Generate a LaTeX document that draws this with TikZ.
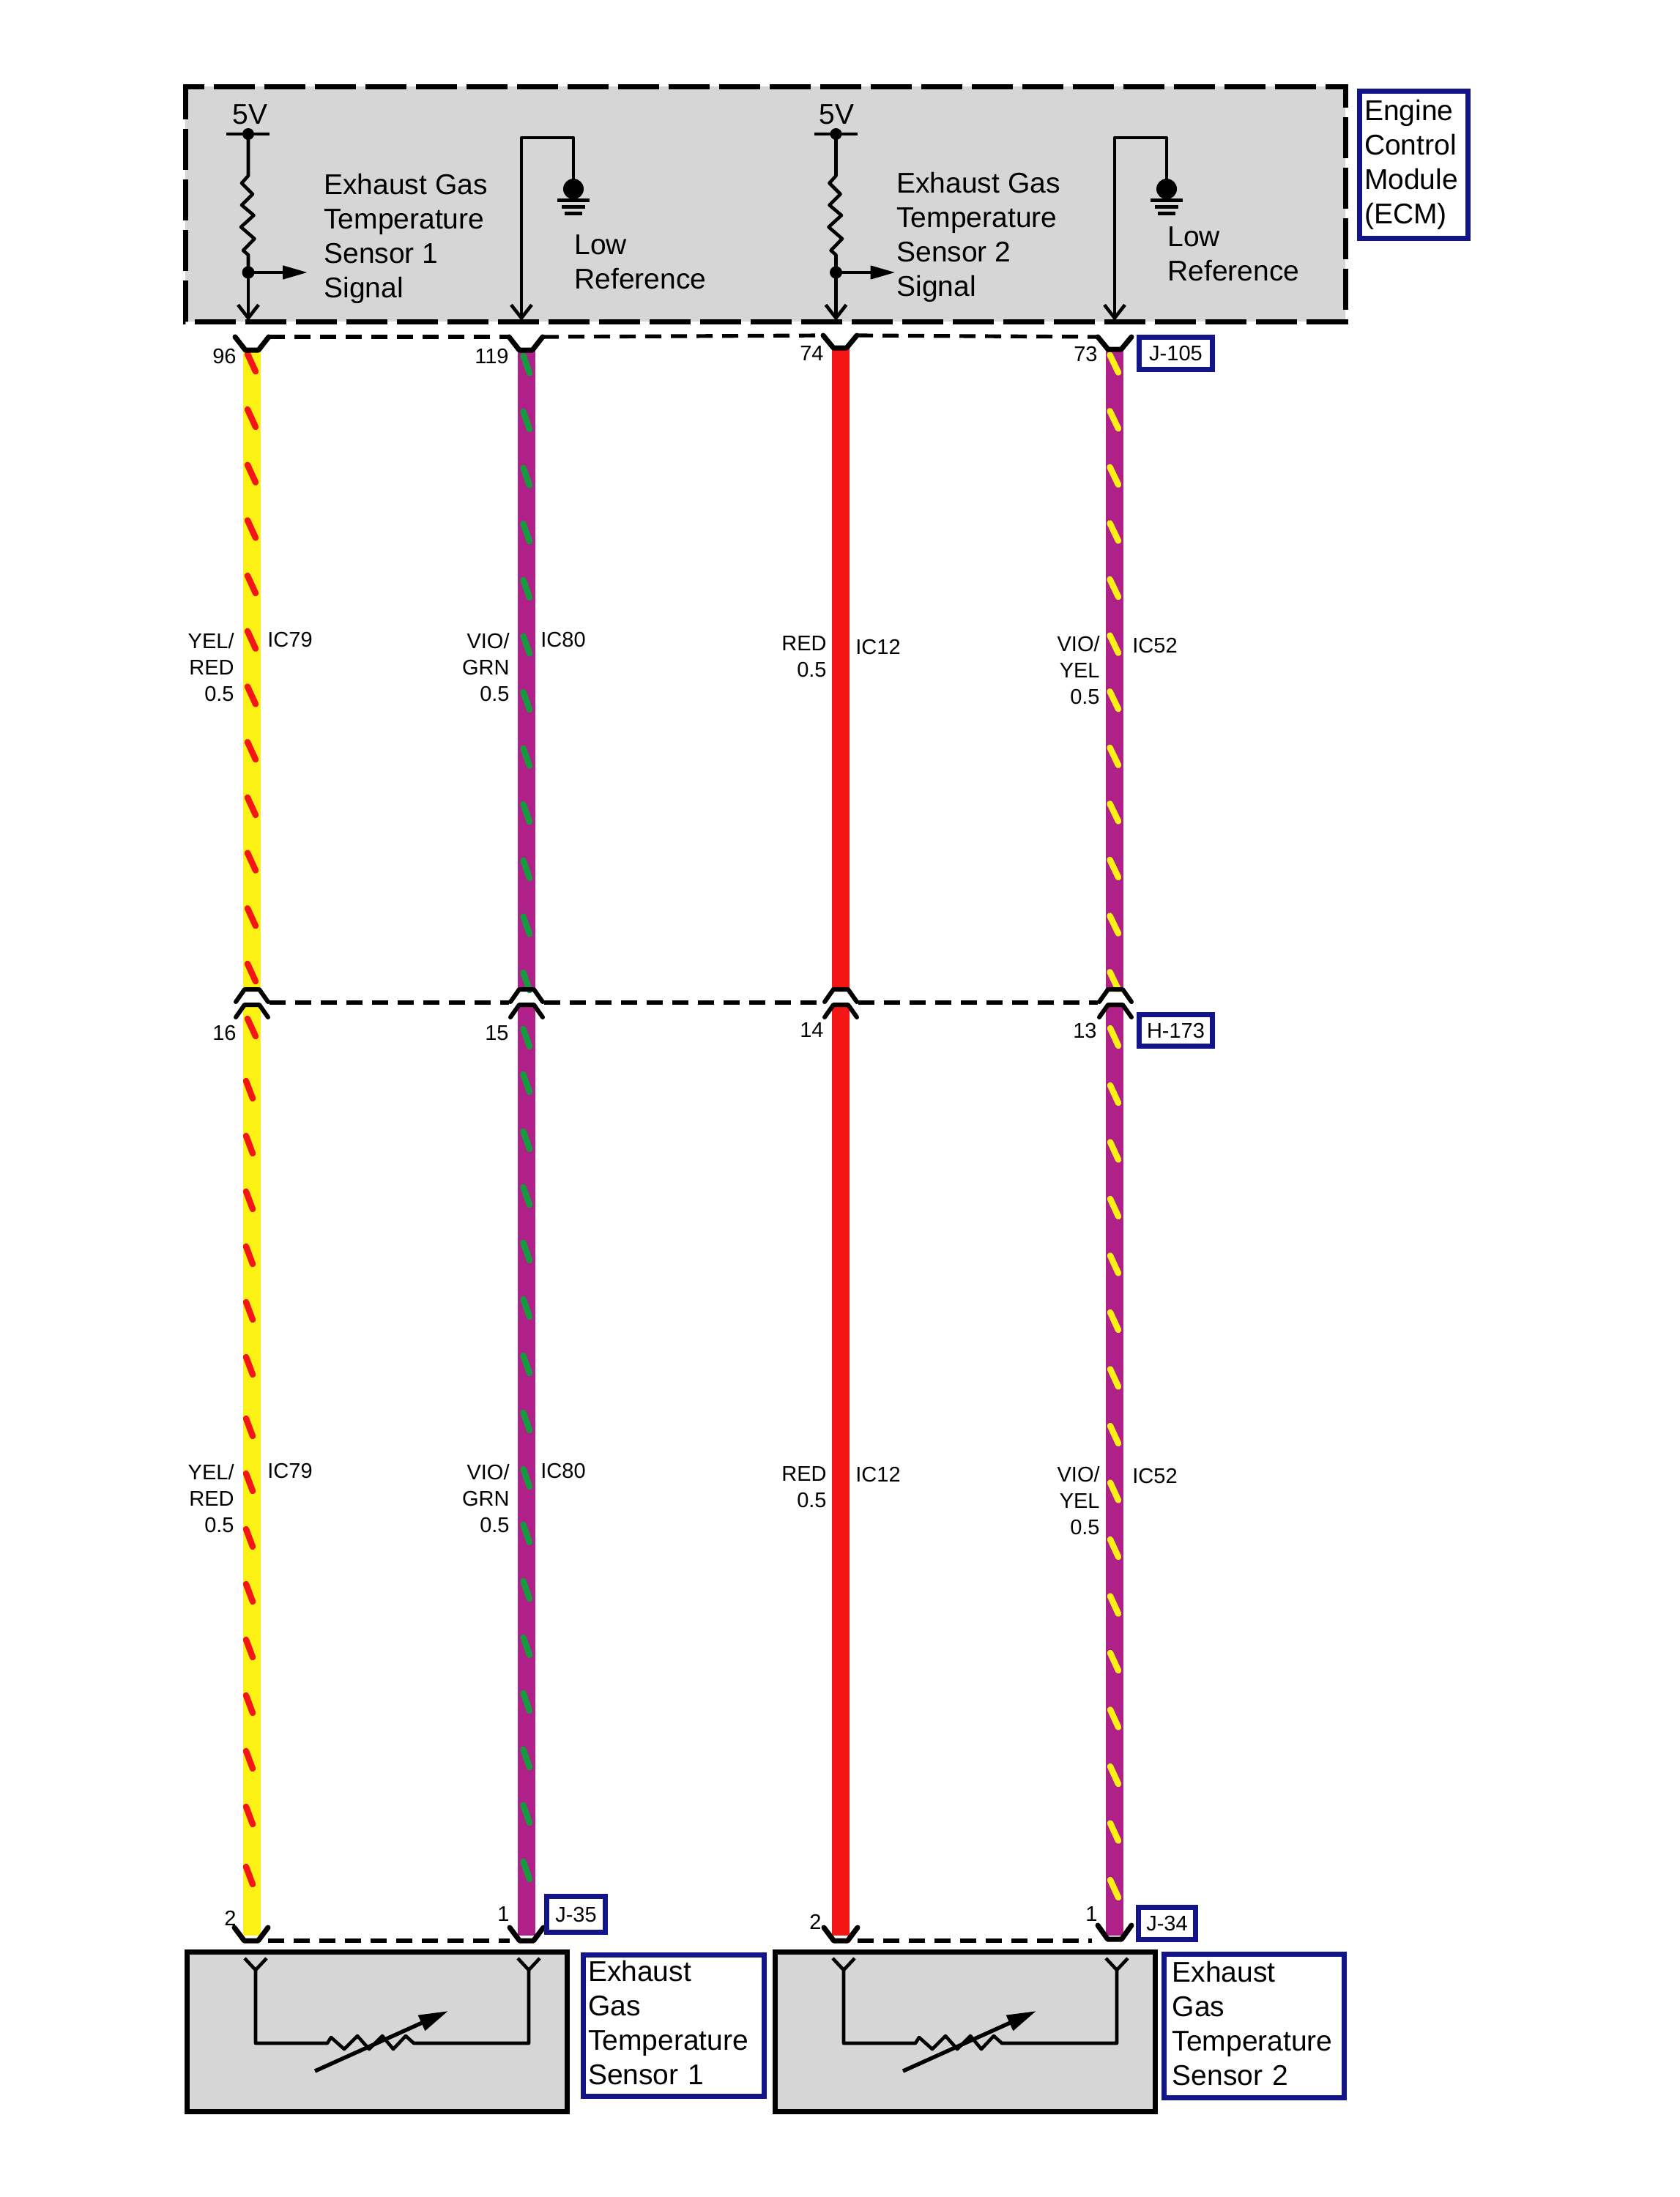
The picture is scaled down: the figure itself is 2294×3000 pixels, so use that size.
\documentclass[tikz,border=0pt]{standalone}
\usepackage{fontspec}
\setmainfont{Liberation Sans}
\usetikzlibrary{arrows.meta}
\definecolor{modgray}{HTML}{D6D6D6}
\definecolor{tagblue}{HTML}{14148A}
\definecolor{wireyel}{HTML}{FCF114}
\definecolor{wirered}{HTML}{F41515}
\definecolor{wirevio}{HTML}{AF2088}
\definecolor{wiregrn}{HTML}{169A3E}

\begin{document}
\begin{tikzpicture}[x=0.5pt,y=-0.5pt,
                thinwire/.style={line width=2.3pt,line join=round},
                modbox/.style={draw=black,fill=modgray,line width=3.5pt},
                harness/.style={line width=12pt},
                stripe/.style={line width=4.2pt,line cap=round},
                wirecap/.style={line width=3.5pt,line cap=round,line join=round},
                capdash/.style={line width=2.6pt,dash pattern=on 11pt off 6.5pt},
                bigtext/.style={font=\fontsize{19.5}{23.5}\selectfont,inner sep=0pt,align=left},
                pintext/.style={font=\fontsize{14.5}{18}\selectfont,inner sep=0pt},
                tagbox/.style={draw=tagblue,fill=white,line width=3.5pt,inner sep=0pt,
                  font=\fontsize{14.5}{18}\selectfont},
                nametag/.style={tagbox,font=\fontsize{19.5}{23.5}\selectfont,align=left}
                ]
  \useasboundingbox (0,0) rectangle (2294,3000);

  % engine control module
  \draw[modbox,dash pattern=on 28pt off 6.5pt] (253,148) -- (253,118) -- (1837,118) -- (1837,439) -- (253,439) -- cycle;

  % pull up branches
  \foreach \xx/\n in {339/a,1141.5/b} {
    \begin{scope}[shift={(\xx,0)}]
      \coordinate (vcc\n) at (0,183);
      \coordinate (sig\n) at (0,372);
      \coordinate (out\n) at (81,372);
      \coordinate (ecmpin\n) at (0,438);
      \draw[thinwire] (-30,183) -- (29,183);
      \draw[thinwire] (vcc\n) -- (0,240) -- (-9,250) -- (6,265) -- (-9,280) -- (7.5,294) -- (-10,310) -- (8.5,326) -- (-7,342) -- (0,348) -- (sig\n);
      \draw[thinwire,-{Straight Barb[length=9pt,width=14pt]}] (sig\n) -- (ecmpin\n);
      \draw[thinwire,-{Triangle[length=17pt,width=9pt]}] (sig\n) -- (out\n);
      \fill (vcc\n) circle[radius=8];
      \fill (sig\n) circle[radius=8.5];
    \end{scope}
  }
  % low reference branches
  \foreach \xx/\n in {712/a,1522/b} {
    \begin{scope}[shift={(\xx,0)}]
      \coordinate (gnd\n) at (71,258);
      \coordinate (lowpin\n) at (0,438);
      \draw[thinwire,-{Straight Barb[length=9pt,width=14pt]}] (gnd\n) -- (71,188) -- (0,188) -- (lowpin\n);
      \fill (gnd\n) circle[radius=14];
      \draw[line width=2.5pt] (49,273) -- (93,273);
      \draw[line width=2.5pt] (55,282) -- (87,282);
      \draw[line width=2.5pt] (59,291) -- (83,291);
    \end{scope}
  }
  \node[bigtext,anchor=base west] (fivea) at (317,169) {5V};
  \node[bigtext,anchor=base west] (fiveb) at (1118,169) {5V};
  \node[bigtext,anchor=north west] (siga) at (442,237) {Exhaust Gas\\Temperature\\Sensor 1\\Signal};
  \node[bigtext,anchor=north west] (sigb) at (1224,235) {Exhaust Gas\\Temperature\\Sensor 2\\Signal};
  \node[bigtext,anchor=north west] (lowa) at (784,320) {Low\\Reference};
  \node[bigtext,anchor=north west] (lowb) at (1594,309) {Low\\Reference};
  \node[nametag,minimum width=74pt,minimum height=100.5pt,text width=67pt] (ecmtag) at (1930,224.5) {Engine\\Control\\Module\\(ECM)};

  % harness
  \foreach \n/\xx/\wcol in {a/344/wireyel,b/719/wirevio,c/1148/wirered,d/1522/wirevio} {
    \coordinate (wtop\n) at (\xx,476);
    \coordinate (wmidu\n) at (\xx,1352);
    \coordinate (wmidl\n) at (\xx,1372);
    \coordinate (wbot\n) at (\xx,2643);
    \draw[harness,\wcol] (wtop\n) -- (wmidu\n);
    \draw[harness,\wcol] (wmidl\n) -- (wbot\n);
  }
  \foreach \yy in {483.3,559,...,1320,1391} {
    \draw[stripe,wirered] (338,\yy) -- (349,\yy+24);
  }
  \foreach \yy in {1476,1551,1627,1702,1778,1853,1937,2012,2088,2163,2239,2315,2391,2467,2549} {
    \draw[stripe,wirered] (336,\yy) -- (345,\yy+24);
  }
  \foreach \yy in {485.5,562.1,...,1335,1405,1467,1545,1621,1697,1774,1851,1929,2006,2082,2159,2236,2312,2389,2465,2542} {
    \draw[stripe,wiregrn] (714.5,\yy) -- (723,\yy+24);
  }
  \foreach \yy in {484.6,561.2,...,1335} {
    \draw[stripe,wireyel] (1515.5,\yy) -- (1527,\yy+24);
  }
  \foreach \yy in {1404,1482,1559.5,...,2570} {
    \draw[stripe,wireyel] (1516,\yy) -- (1527,\yy+24);
  }

  % connector caps
  \foreach \n/\xx/\yo/\yi in {a/344/460/478,b/718/460/478,c/1147/458/475,d/1522/460/477} {
    \coordinate (jl\n) at (\xx-23,\yo);
    \coordinate (jr\n) at (\xx+23,\yo);
    \draw[wirecap] (jl\n) -- (\xx-9,\yi) -- (\xx+9,\yi) -- (jr\n);
  }
  \foreach \n/\xx in {a/344,b/719,c/1148,d/1523} {
    \coordinate (hl\n) at (\xx-24,1369);
    \coordinate (hr\n) at (\xx+24,1369);
    \draw[wirecap,line width=3pt] (\xx-22,1368) -- (\xx-10,1351) -- (\xx+10,1351) -- (\xx+22,1368);
    \draw[wirecap,line width=3pt] (\xx-22,1389) -- (\xx-10,1372) -- (\xx+10,1372) -- (\xx+22,1389);
  }
  \foreach \n/\xx/\yo/\yi in {a/343/2632/2650,b/719/2632/2650,c/1148/2632/2650,d/1522/2629/2648} {
    \coordinate (bl\n) at (\xx-23,\yo);
    \coordinate (br\n) at (\xx+23,\yo);
    \coordinate (bdl\n) at (\xx-23,2650);
    \coordinate (bdr\n) at (\xx+23,2650);
    \draw[wirecap] (bl\n) -- (\xx-9.5,\yi) -- (\xx+9.5,\yi) -- (br\n);
  }
  \coordinate (bdend) at (1491,2650);
  \draw[capdash] (jra) -- (jlb);
  \draw[capdash] (jrb) -- (jlc);
  \draw[capdash] (jrc) -- (jld);
  \draw[capdash] (hra) -- (hlb);
  \draw[capdash] (hrb) -- (hlc);
  \draw[capdash] (hrc) -- (hld);
  \draw[capdash] (bdra) -- (bdlb);
  \draw[capdash] (bdrc) -- (bdend);

  % pin numbers
  \foreach \nm/\xx/\yy/\txt in {pa/323/496/96,pb/695/496/119,pc/1125/492/74,pd/1499/493/73,
      qa/323/1420/16,qb/695/1420/15,qc/1125/1416/14,qd/1498/1417/13,
      ra/323/2629/2,rb/696/2623/1,rc/1122/2634/2,rd/1499/2623/1} {
    \node[pintext,anchor=base east] (\nm) at (\xx,\yy) {\txt};
  }

  % wire labels
  \foreach \nm/\yy/\yb/\yc/\yd/\ya in {u/864/883/868/893/891,l/1999/2018/2002/2023/2025} {
    \node[pintext,anchor=north east,align=right] (cola\nm) at (320,\yy) {YEL/\\RED\\0.5};
    \node[pintext,anchor=north east,align=right] (colb\nm) at (696,\yy) {VIO/\\GRN\\0.5};
    \node[pintext,anchor=north east,align=right] (colc\nm) at (1129,\yc) {RED\\0.5};
    \node[pintext,anchor=north east,align=right] (cold\nm) at (1502,\yc) {VIO/\\YEL\\0.5};
    \node[pintext,anchor=base west] (ica\nm) at (365,\yb) {IC79};
    \node[pintext,anchor=base west] (icb\nm) at (738,\yb) {IC80};
    \node[pintext,anchor=base west] (icc\nm) at (1168,\yd) {IC12};
    \node[pintext,anchor=base west] (icd\nm) at (1546,\ya) {IC52};
  }

  % connector tags
  \node[tagbox,minimum width=50pt,minimum height=22pt] (tagjtop) at (1605.5,482.5) {J-105};
  \node[tagbox,minimum width=50pt,minimum height=21.5pt] (taghmid) at (1605.5,1407) {H-173};
  \node[tagbox,minimum width=40pt,minimum height=24.5pt] (tagja) at (786.5,2614) {J-35};
  \node[tagbox,minimum width=39pt,minimum height=22pt] (tagjb) at (1593.5,2626.5) {J-34};

  % sensors
  \foreach \dx/\n in {0/a,803/b} {
    \begin{scope}[shift={(\dx,0)}]
      \draw[modbox] (255.5,2665.5) rectangle (774.5,2883.5);
      \coordinate (ctl\n) at (349,2690);
      \coordinate (ctr\n) at (722,2690);
      \draw[thinwire] (334,2674) -- (ctl\n) -- (364,2674);
      \draw[thinwire] (707,2674) -- (ctr\n) -- (737,2674);
      \draw[thinwire] (ctl\n) -- (349,2790) -- (447,2790) -- (452,2782) -- (470,2798) -- (488,2780) -- (504,2798) -- (522,2780) -- (537,2798) -- (554,2780) -- (565,2790) -- (722,2790) -- (ctr\n);
      \draw[line width=2.7pt,-{Triangle[length=20pt,width=11pt]}] (430,2828) -- (612,2746);
    \end{scope}
  }
  \node[nametag,minimum width=123.5pt,minimum height=96.5pt,text width=116.5pt] (senstaga) at (919.5,2765.5) {Exhaust\\Gas\\Temperature\\Sensor 1\vphantom{(}};
  \node[nametag,minimum width=123.25pt,minimum height=98pt,text width=111.6pt] (senstagb) at (1712.25,2766.5) {Exhaust\\Gas\\Temperature\\Sensor 2\vphantom{(}};
\end{tikzpicture}
\end{document}
